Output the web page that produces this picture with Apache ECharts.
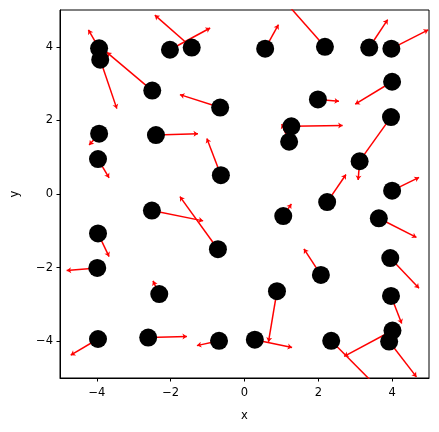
<!DOCTYPE html>
<html>
<head>
<meta charset="utf-8">
<script src="https://cdn.jsdelivr.net/npm/echarts@6/dist/echarts.min.js"></script>
<style>html,body{margin:0;padding:0;background:#fff}#c{width:439px;height:432px}</style>
</head>
<body>
<div id="c"></div>
<script>
// point positions
var xs = [-3.94,-3.91,-2.02,-1.43,-2.50,-0.66,-3.94,-2.40,-3.97,-0.64,
          0.56,2.18,3.38,3.98,4.00,1.99,1.27,1.21,3.97,3.12,
          2.24,4.00,-2.51,-0.72,-3.97,-3.99,-2.31,-3.97,-2.61,-0.69,
          1.05,3.64,2.07,3.95,0.88,3.97,0.28,2.35,4.01,3.92];
var ys = [3.96,3.65,3.92,3.98,2.81,2.35,1.64,1.60,0.95,0.51,
          3.95,4.00,3.98,3.95,3.05,2.57,1.84,1.42,2.09,0.89,
          -0.22,0.09,-0.45,-1.50,-1.07,-2.01,-2.72,-3.94,-3.90,-3.99,
          -0.60,-0.66,-2.20,-1.74,-2.64,-2.77,-3.96,-3.99,-3.71,-4.01];
// arrow components
var us = [-0.29,0.45,1.09,-1.00,-1.23,-1.09,-0.27,1.14,0.30,-0.38,
          0.36,-1.10,0.50,1.00,-1.00,0.57,1.39,-0.20,-0.79,-0.04,
          0.51,0.73,1.39,-1.03,0.30,-0.83,-0.17,-0.74,1.05,-0.60,
          0.22,1.02,-0.46,0.78,-0.23,0.29,1.01,1.31,-1.31,0.74];
var vs = [0.50,-1.33,0.59,0.88,1.04,0.35,-0.31,0.04,-0.51,1.00,
          0.65,1.25,0.76,0.51,-0.61,-0.05,0.02,0.48,-1.11,-0.51,
          0.75,0.36,-0.28,1.43,-0.63,-0.07,0.36,-0.44,0.03,-0.13,
          0.33,-0.52,0.71,-0.82,-1.38,-0.75,-0.21,-1.32,-0.70,-0.96];
var xTicks = [-4,-2,0,2,4];
var yTicks = [-4,-2,0,2,4];

var pts = xs.map(function(x,i){return [x, ys[i]];});
var arrows = xs.map(function(x,i){return {coords:[[x, ys[i]],[x+us[i], ys[i]+vs[i]]]};});
var fmt = function(v){ return v < 0 ? '\u2212' + Math.abs(v) : String(v); };
var font = 'DejaVu Sans';
var chart = echarts.init(document.getElementById('c'), null, {renderer:'canvas'});
chart.setOption({
  animation:false,
  backgroundColor:'#fff',
  grid:{left:60, right:10, top:10, bottom:54, show:true, borderColor:'#000', borderWidth:1, backgroundColor:'transparent'},
  xAxis:{type:'value', min:-5, max:5, name:'x', nameLocation:'middle', nameGap:32,
    nameTextStyle:{color:'#000', fontFamily:font, fontSize:11.5},
    axisLine:{show:true, onZero:false, lineStyle:{color:'#000', width:1}},
    axisTick:{show:true, length:3.5, inside:false, customValues:xTicks, lineStyle:{color:'#000'}},
    axisLabel:{customValues:xTicks, formatter:fmt, color:'#000', fontFamily:font, fontSize:11.5, margin:9},
    splitLine:{show:false}},
  yAxis:{type:'value', min:-5, max:5, name:'y', nameLocation:'middle', nameGap:39,
    nameTextStyle:{color:'#000', fontFamily:font, fontSize:11.5},
    axisLine:{show:true, onZero:false, lineStyle:{color:'#000', width:1}},
    axisTick:{show:true, length:3.5, inside:false, customValues:yTicks, lineStyle:{color:'#000'}},
    axisLabel:{customValues:yTicks, formatter:fmt, color:'#000', fontFamily:font, fontSize:11.5, margin:7},
    splitLine:{show:false}},
  series:[
    {type:'lines', coordinateSystem:'cartesian2d', clip:true, z:2,
     symbol:['none','arrow'], symbolSize:[0,4.5],
     lineStyle:{color:'#ff0000', width:1.5, opacity:1, curveness:0},
     data:arrows},
    {type:'scatter', z:3, symbol:'circle', symbolSize:18,
     itemStyle:{color:'#000', opacity:1}, data:pts}
  ]
});
</script>
</body>
</html>
